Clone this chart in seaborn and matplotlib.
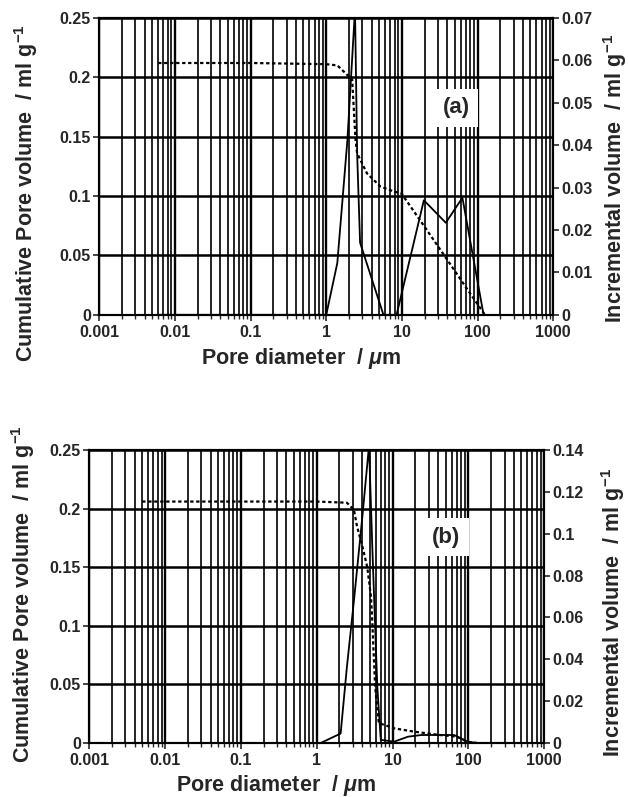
import numpy as np
import pandas as pd
import matplotlib
matplotlib.use("Agg")
import matplotlib.pyplot as plt
from matplotlib.ticker import LogLocator, FixedLocator, FixedFormatter, NullFormatter
import seaborn as sns

# panel (a) - cumulative pore volume (left axis)
diam_cum_a = [0.006, 0.1, 1.0, 1.4, 2.2, 2.44, 2.56, 3.46, 5.2, 7.7, 9.9, 20, 40, 85, 125]
cum_a = [0.212, 0.212, 0.211, 0.210, 0.198, 0.147, 0.136, 0.119, 0.108, 0.104, 0.102, 0.074, 0.046, 0.0154, 0.0]
# panel (a) - incremental volume (right axis)
diam_inc_a = [0.006, 0.3, 1.0, 1.4, 1.9, 2.4, 2.56, 2.8, 3.2, 5.7, 8.5, 19.5, 38, 63, 120]
inc_a = [0, 0, 0, 0.0122, 0.041, 0.072, 0.038, 0.017, 0.0138, 0, 0, 0.027, 0.0217, 0.0276, 0]

# panel (b)
diam_cum_b = [0.005, 0.1, 1.0, 2.5, 3.1, 3.4, 4.0, 4.65, 5.2, 5.4, 5.9, 6.6, 7.8, 10.5, 19, 42, 70, 98, 130]
cum_b = [0.206, 0.206, 0.206, 0.205, 0.199, 0.185, 0.168, 0.150, 0.125, 0.105, 0.048, 0.017, 0.0154, 0.0125,
         0.0097, 0.0068, 0.0054, 0.001, 0.0]
diam_inc_b = [0.005, 1.0, 1.13, 2.07, 2.5, 3.1, 4.0, 4.9, 5.4, 6.3, 7.0, 10.5, 16, 24, 65, 98, 130]
inc_b = [0, 0, 0, 0.0045, 0.036, 0.068, 0.108, 0.142, 0.095, 0.027, 0.0015, 0.0006, 0.003, 0.0038, 0.0038,
         0.0006, 0]

x_ticks = [0.001, 0.01, 0.1, 1, 10, 100, 1000]
x_labels = ["0.001", "0.01", "0.1", "1", "10", "100", "1000"]
left_ticks = [0, 0.05, 0.1, 0.15, 0.2, 0.25]
left_labels = ["0", "0.05", "0.1", "0.15", "0.2", "0.25"]
right_ticks_a = [0, 0.01, 0.02, 0.03, 0.04, 0.05, 0.06, 0.07]
right_labels_a = ["0", "0.01", "0.02", "0.03", "0.04", "0.05", "0.06", "0.07"]
right_ticks_b = [0, 0.02, 0.04, 0.06, 0.08, 0.1, 0.12, 0.14]
right_labels_b = ["0", "0.02", "0.04", "0.06", "0.08", "0.1", "0.12", "0.14"]

sns.set_style("white")
plt.rcParams["font.family"] = ["Liberation Sans", "DejaVu Sans"]
plt.rcParams["font.weight"] = "bold"
plt.rcParams["mathtext.fontset"] = "custom"
plt.rcParams["mathtext.bf"] = "Liberation Sans:bold"
plt.rcParams["mathtext.rm"] = "Liberation Sans:bold"
plt.rcParams["mathtext.it"] = "Liberation Sans:italic:bold"
plt.rcParams["mathtext.default"] = "bf"

fig = plt.figure(figsize=(6.28, 7.97), dpi=100)
ax_a = fig.add_axes([0.158, 0.605, 0.723, 0.3726])
ax_b = fig.add_axes([0.142, 0.0678, 0.7245, 0.3676])

TICK_FS = 11.5
LABEL_FS = 15.5


def draw_panel(ax, dc, cum, di, inc, rticks, rlabels, tag, xl_pos, yl_pos, yr_pos, tag_pos):
    df_c = pd.DataFrame({"d": dc, "v": cum})
    df_i = pd.DataFrame({"d": di, "v": inc})
    ax.set_xscale("log")
    sns.lineplot(data=df_c, x="d", y="v", ax=ax, color="black", lw=1.6,
                 linestyle=(0, (1.5, 1.2)), sort=False, zorder=3)
    ax.set_xlim(1e-3, 1e3)
    ax.set_ylim(0, 0.25)
    ax.xaxis.set_major_locator(FixedLocator(x_ticks))
    ax.xaxis.set_major_formatter(FixedFormatter(x_labels))
    ax.xaxis.set_minor_locator(LogLocator(base=10, subs=np.arange(2, 10), numticks=20))
    ax.xaxis.set_minor_formatter(NullFormatter())
    ax.yaxis.set_major_locator(FixedLocator(left_ticks))
    ax.yaxis.set_major_formatter(FixedFormatter(left_labels))
    ax.xaxis.grid(True, which="major", color="black", lw=1.7)
    ax.xaxis.grid(True, which="minor", color="black", lw=1.2)
    ax.yaxis.grid(True, which="major", color="black", lw=1.8)
    ax.tick_params(axis="x", which="major", direction="out", length=4, width=1.2,
                   labelsize=TICK_FS, pad=3, bottom=True)
    ax.tick_params(axis="y", which="major", direction="out", length=4, width=1.2,
                   labelsize=TICK_FS, pad=2, left=True)
    ax.tick_params(axis="x", which="minor", direction="out", length=3, width=1, bottom=True)
    for s in ax.spines.values():
        s.set_color("black")
        s.set_linewidth(1.5)
    ax.set_xlabel("Pore diameter  / $\\mathit{\\mu}$m", fontsize=LABEL_FS, fontweight="bold")
    ax.set_ylabel("Cumulative Pore volume  / ml g$^{-1}$", fontsize=LABEL_FS, fontweight="bold")
    ax.xaxis.set_label_coords(*xl_pos)
    ax.yaxis.set_label_coords(*yl_pos)

    tw = ax.twinx()
    sns.lineplot(data=df_i, x="d", y="v", ax=tw, color="black", lw=1.3, sort=False)
    tw.set_xlim(1e-3, 1e3)
    tw.set_ylim(0, rticks[-1])
    tw.yaxis.set_major_locator(FixedLocator(rticks))
    tw.yaxis.set_major_formatter(FixedFormatter(rlabels))
    tw.tick_params(axis="y", direction="out", length=4, width=1.2, labelsize=TICK_FS, pad=2, right=True)
    tw.set_ylabel("Incremental volume  / ml g$^{-1}$", fontsize=LABEL_FS, fontweight="bold")
    tw.yaxis.set_label_coords(*yr_pos)
    tw.grid(False)
    for s in tw.spines.values():
        s.set_color("black")
        s.set_linewidth(1.5)
    tw.text(tag_pos[0], tag_pos[1], tag, transform=tw.transAxes, fontsize=16, fontweight="bold",
            ha="center", va="center", zorder=10,
            bbox=dict(facecolor="white", edgecolor="none", pad=6))


draw_panel(ax_a, diam_cum_a, cum_a, diam_inc_a, inc_a, right_ticks_a, right_labels_a, "(a)",
           (0.445, -0.105), (-0.13, 0.41), (1.105, 0.46), (0.786, 0.697))
draw_panel(ax_b, diam_cum_b, cum_b, diam_inc_b, inc_b, right_ticks_b, right_labels_b, "(b)",
           (0.41, -0.102), (-0.115, 0.51), (1.12, 0.444), (0.785, 0.703))

fig.savefig("out.png", dpi=100, facecolor="white")
